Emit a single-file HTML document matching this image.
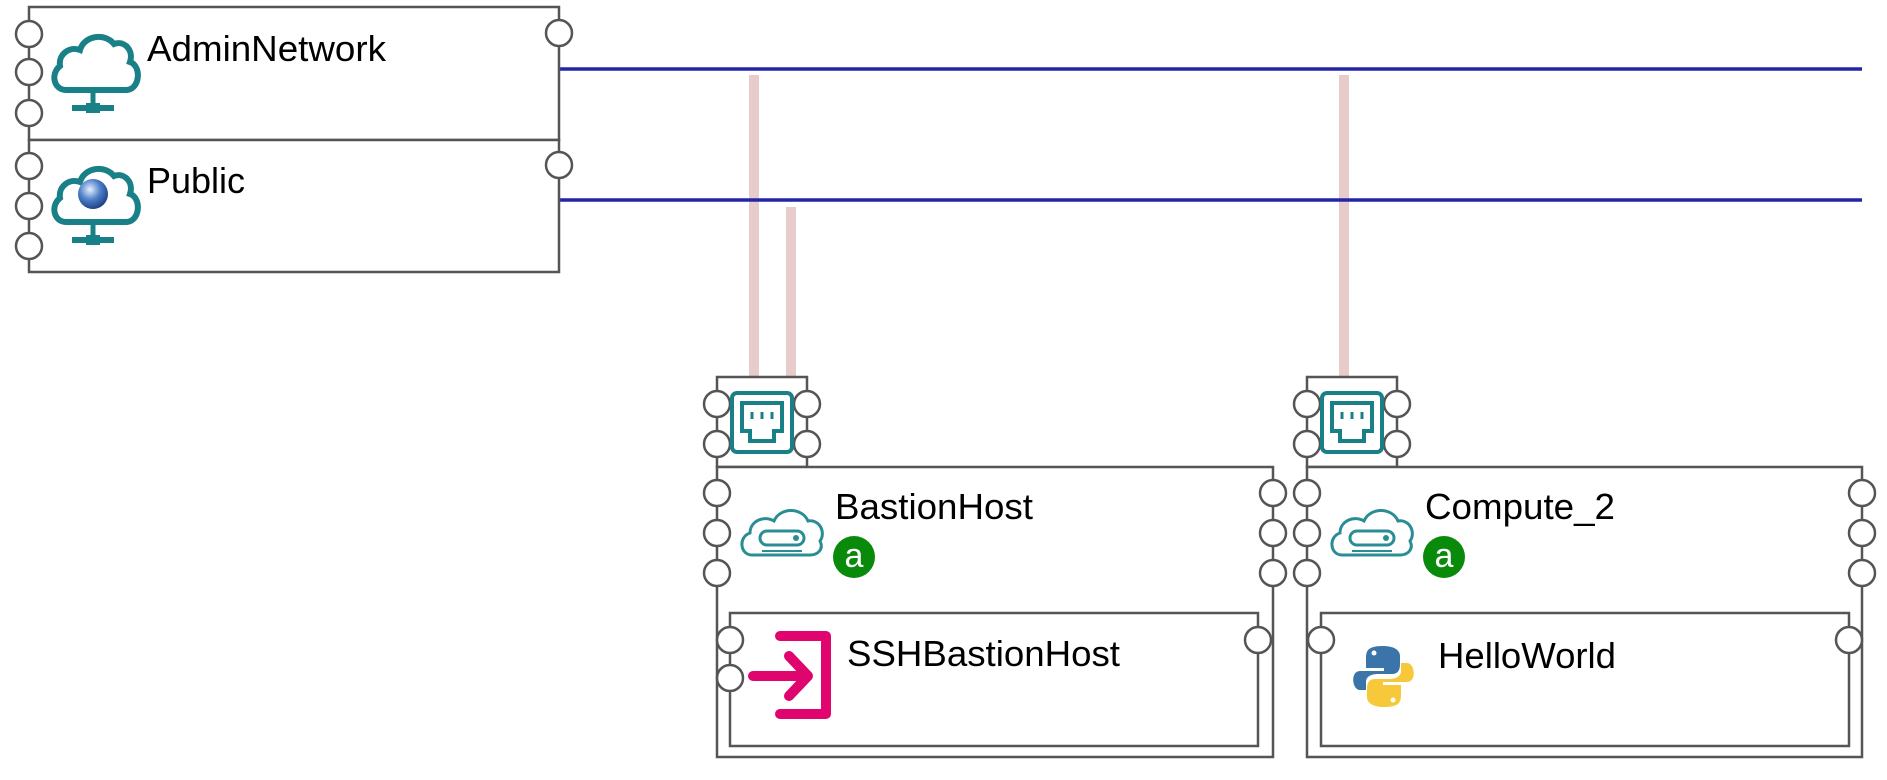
<!DOCTYPE html>
<html><head><meta charset="utf-8"><style>
html,body{margin:0;padding:0;background:#fff;}
svg{display:block;}
text{font-family:"Liberation Sans",Arial,sans-serif;font-size:36px;fill:#000;}
</style></head><body>
<svg width="1887" height="780" viewBox="0 0 1887 780" xmlns="http://www.w3.org/2000/svg">
<defs>
<g id="cloud">
<path d="M14,58 C2,58 -2,42 8,34 C6,22 18,14 28,18 C32,4 52,0 62,12 C72,8 82,18 78,30 C90,34 88,58 74,58 Z" fill="none" stroke="#1a8088" stroke-width="6"/>
<line x1="41" y1="60" x2="41" y2="76" stroke="#1a8088" stroke-width="5"/>
<line x1="20" y1="76" x2="62" y2="76" stroke="#1a8088" stroke-width="6"/>
<rect x="34" y="71" width="14" height="10" fill="#1a8088"/>
</g>
<g id="vm">
<path d="M12,52 C0,52 -2,34 10,30 C10,18 24,12 34,18 C40,4 62,4 68,18 C80,16 86,30 80,38 C84,46 78,52 70,52 Z" fill="none" stroke="#2a8d94" stroke-width="3"/>
<rect x="20" y="28" width="44" height="14" rx="7" fill="none" stroke="#2a8d94" stroke-width="3"/>
<circle cx="56" cy="35" r="3" fill="#2a8d94"/>
<line x1="22" y1="48" x2="62" y2="48" stroke="#2a8d94" stroke-width="2"/>
</g>
<g id="nic">
<rect x="0" y="0" width="60" height="59" rx="5" fill="none" stroke="#1a8088" stroke-width="4"/>
<path d="M10,10 H50 V38 H42 V48 H18 V38 H10 Z" fill="none" stroke="#1a8088" stroke-width="4"/>
<line x1="20" y1="19" x2="20" y2="26" stroke="#1a8088" stroke-width="3"/>
<line x1="30" y1="19" x2="30" y2="26" stroke="#1a8088" stroke-width="3"/>
<line x1="40" y1="19" x2="40" y2="26" stroke="#1a8088" stroke-width="3"/>
</g>
<g id="badge">
<circle cx="0" cy="0" r="21" fill="#0a8a0a"/>
<text x="0" y="10" text-anchor="middle" style="font-size:34px;fill:#fff">a</text>
</g>
<radialGradient id="globe" cx="0.4" cy="0.35" r="0.7"><stop offset="0" stop-color="#e8f0ff"/><stop offset="0.5" stop-color="#4d7fc8"/><stop offset="1" stop-color="#1a3a7a"/></radialGradient>
</defs>

<g stroke="#e8cccc" stroke-width="10">
<line x1="754" y1="75" x2="754" y2="377"/>
<line x1="791" y1="207" x2="791" y2="377"/>
<line x1="1344" y1="75" x2="1344" y2="377"/>
</g>
<g stroke="#2424a6" stroke-width="3.5">
<line x1="559" y1="69" x2="1862" y2="69"/>
<line x1="559" y1="200" x2="1862" y2="200"/>
</g>

<g fill="#fff" stroke="#555" stroke-width="2.5">
<rect x="29" y="7" width="530" height="133"/>
<rect x="29" y="140" width="530" height="132"/>
<rect x="717" y="377" width="90" height="90"/>
<rect x="717" y="467" width="556" height="290"/>
<rect x="730" y="613" width="528" height="133"/>
<rect x="1307" y="377" width="90" height="90"/>
<rect x="1307" y="467" width="555" height="290"/>
<rect x="1321" y="613" width="528" height="133"/>
<circle cx="29" cy="34" r="13"/><circle cx="29" cy="72" r="13"/><circle cx="29" cy="113" r="13"/>
<circle cx="29" cy="166" r="13"/><circle cx="29" cy="206" r="13"/><circle cx="29" cy="246" r="13"/>
<circle cx="559" cy="33" r="13"/><circle cx="559" cy="165" r="13"/>
<circle cx="717" cy="404" r="13"/><circle cx="717" cy="444" r="13"/>
<circle cx="807" cy="404" r="13"/><circle cx="807" cy="444" r="13"/>
<circle cx="717" cy="493" r="13"/><circle cx="717" cy="533" r="13"/><circle cx="717" cy="573" r="13"/>
<circle cx="1273" cy="493" r="13"/><circle cx="1273" cy="533" r="13"/><circle cx="1273" cy="573" r="13"/>
<circle cx="730" cy="640" r="13"/><circle cx="730" cy="678" r="13"/>
<circle cx="1258" cy="640" r="13"/>
<circle cx="1307" cy="404" r="13"/><circle cx="1307" cy="444" r="13"/>
<circle cx="1397" cy="404" r="13"/><circle cx="1397" cy="444" r="13"/>
<circle cx="1307" cy="493" r="13"/><circle cx="1307" cy="533" r="13"/><circle cx="1307" cy="573" r="13"/>
<circle cx="1862" cy="493" r="13"/><circle cx="1862" cy="533" r="13"/><circle cx="1862" cy="573" r="13"/>
<circle cx="1321" cy="640" r="13"/><circle cx="1849" cy="640" r="13"/>
</g>

<use href="#cloud" x="52" y="32"/>
<use href="#cloud" x="52" y="164"/>
<circle cx="93" cy="194" r="15" fill="url(#globe)"/>
<use href="#nic" x="732" y="393"/>
<use href="#nic" x="1322" y="393"/>
<use href="#vm" x="740" y="503"/>
<use href="#vm" x="1330" y="503"/>
<use href="#badge" x="854" y="557"/>
<use href="#badge" x="1444" y="557"/>

<path d="M780,636 H826 V714 H780" fill="none" stroke="#e0046e" stroke-width="10" stroke-linejoin="round" stroke-linecap="round"/>
<path d="M753,676 H808 M789,656 L808,676 L789,696" fill="none" stroke="#e0046e" stroke-width="10" stroke-linecap="round" stroke-linejoin="round"/>

<g>
<path d="M1383,646 C1366,646 1366,652 1366,660 V668 H1384 V671 H1360 C1350,671 1352,690 1360,690 H1366 V682 C1366,676 1372,674 1378,674 H1392 C1398,674 1400,670 1400,664 V656 C1400,650 1394,646 1383,646 Z" fill="#3a74a8"/>
<path d="M1384,707 C1401,707 1401,701 1401,693 V685 H1383 V682 H1407 C1417,682 1415,663 1407,663 H1401 V671 C1401,677 1395,679 1389,679 H1375 C1369,679 1367,683 1367,689 V697 C1367,703 1373,707 1384,707 Z" fill="#f7c93a"/>
<circle cx="1374" cy="653" r="2.5" fill="#fff"/>
<circle cx="1393" cy="700" r="2.5" fill="#fff"/>
</g>

<text x="147" y="61" textLength="239" lengthAdjust="spacingAndGlyphs">AdminNetwork</text>
<text x="147" y="193">Public</text>
<text x="835" y="519" textLength="198" lengthAdjust="spacingAndGlyphs">BastionHost</text>
<text x="847" y="666" textLength="273" lengthAdjust="spacingAndGlyphs">SSHBastionHost</text>
<text x="1425" y="519" textLength="190" lengthAdjust="spacingAndGlyphs">Compute_2</text>
<text x="1438" y="668" textLength="178" lengthAdjust="spacingAndGlyphs">HelloWorld</text>
</svg>
</body></html>
